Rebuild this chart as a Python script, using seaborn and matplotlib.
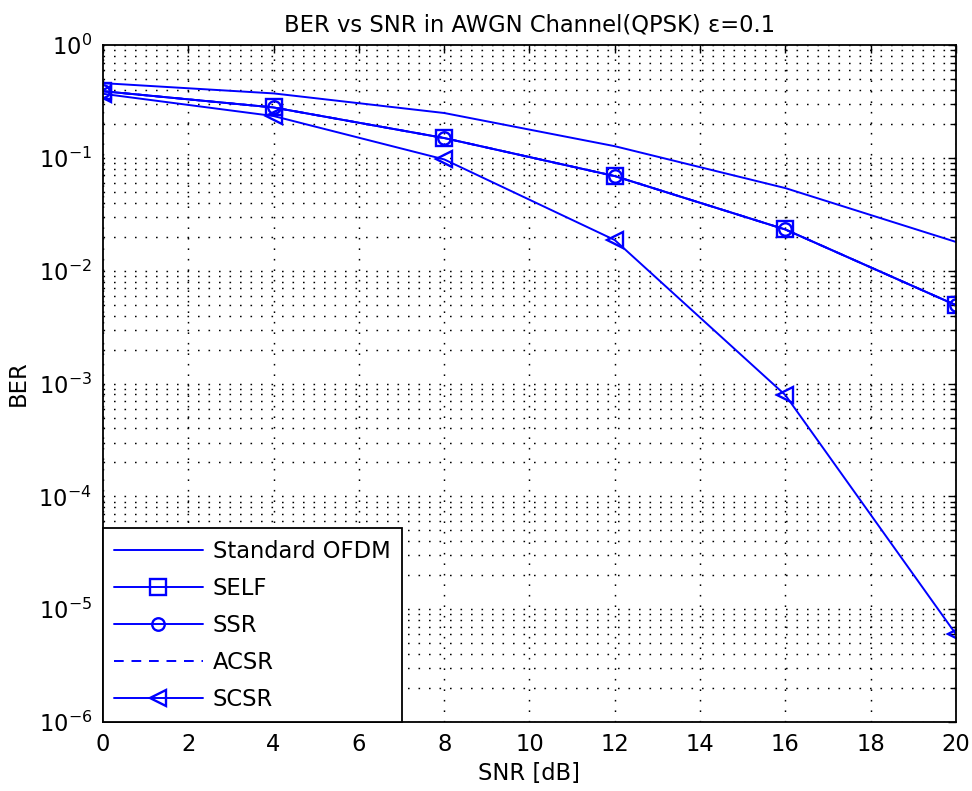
import numpy as np
import pandas as pd
import seaborn as sns
import matplotlib
matplotlib.use("Agg")
import matplotlib.pyplot as plt
from matplotlib.ticker import LogLocator, NullFormatter, FixedLocator

# ---- data ----
snr_db = [0, 4, 8, 12, 16, 20]
ber_standard = [0.46, 0.373, 0.25, 0.127, 0.054, 0.018]
ber_self = [0.39, 0.28, 0.15, 0.069, 0.0232, 0.00495]
ber_ssr = [0.39, 0.28, 0.15, 0.069, 0.0232, 0.00495]
ber_acsr = [0.39, 0.28, 0.15, 0.069, 0.0232, 0.00495]
ber_scsr = [0.37, 0.235, 0.097, 0.0187, 0.00079, 6.0e-6]
series_names = ["Standard OFDM", "SELF", "SSR", "ACSR", "SCSR"]
x_ticks = [0, 2, 4, 6, 8, 10, 12, 14, 16, 18, 20]

title_text = "BER vs SNR in AWGN Channel(QPSK) \u03b5=0.1"
x_label = "SNR [dB]"
y_label = "BER"

sns.set_style("white")
plt.rcParams['font.family'] = ['DejaVu Sans']
plt.rcParams['mathtext.fontset'] = 'dejavusans'
plt.rcParams['text.color'] = 'black'
plt.rcParams['axes.labelcolor'] = 'black'
FS = 16.3

fig = plt.figure(figsize=(9.72, 7.91), dpi=100)
ax = fig.add_axes([0.106, 0.0872, 0.8775, 0.8558])

blue = (0, 0, 1)
lw = 1.4
styles = {
    "Standard OFDM": dict(linestyle='-', marker=None),
    "SELF": dict(linestyle='-', marker='s', markersize=11.5),
    "SSR": dict(linestyle='-', marker='o', markersize=9),
    "ACSR": dict(linestyle=(0, (5, 4)), marker=None),
    "SCSR": dict(linestyle='-', marker='<', markersize=11.5),
}
values = [ber_standard, ber_self, ber_ssr, ber_acsr, ber_scsr]

for name, vals in zip(series_names, values):
    df = pd.DataFrame({"SNR": snr_db, "BER": vals})
    st = styles[name]
    kw = dict(color=blue, linewidth=lw, linestyle=st['linestyle'], label=name)
    if st['marker'] is not None:
        kw.update(marker=st['marker'], markersize=st['markersize'],
                  markerfacecolor='none', markeredgecolor=blue, markeredgewidth=1.7)
    sns.lineplot(data=df, x="SNR", y="BER", ax=ax, **kw)

ax.set_yscale('log')
ax.set_xlim(0, 20)
ax.set_ylim(1e-6, 1)
ax.xaxis.set_major_locator(FixedLocator(x_ticks))
ax.set_xticklabels([str(t) for t in x_ticks])
ax.yaxis.set_major_locator(LogLocator(base=10, numticks=20))
ax.yaxis.set_minor_locator(LogLocator(base=10, subs=np.arange(2, 10), numticks=100))
ax.yaxis.set_minor_formatter(NullFormatter())

grid_ls = (0, (1.1, 6.1))
ax.grid(which='major', axis='both', color='black', linestyle=grid_ls, linewidth=1.05)
ax.grid(which='minor', axis='y', color='black', linestyle=grid_ls, linewidth=1.05)
ax.set_axisbelow(True)

ax.tick_params(which='both', direction='in', top=True, right=True,
               labelsize=FS, colors='black', labelcolor='black', width=1.0)
ax.tick_params(which='major', length=6, pad=8)
ax.tick_params(which='minor', length=4)
for s in ax.spines.values():
    s.set_color('black')
    s.set_linewidth(1.3)

ax.set_title(title_text, fontsize=FS, pad=10, color='black')
ax.set_xlabel(x_label, fontsize=FS, labelpad=4, color='black')
ax.set_ylabel(y_label, fontsize=FS, labelpad=6, color='black')

leg = ax.legend(loc='lower left', bbox_to_anchor=(0, 0), borderaxespad=0,
                fontsize=FS, frameon=True, fancybox=False, framealpha=1,
                edgecolor='black', handlelength=3.9, handletextpad=0.45,
                labelspacing=0.62, borderpad=0.5)
leg.get_frame().set_linewidth(1.3)
for t in leg.get_texts():
    t.set_color('black')

fig.savefig("out.png", dpi=100, facecolor='white')
